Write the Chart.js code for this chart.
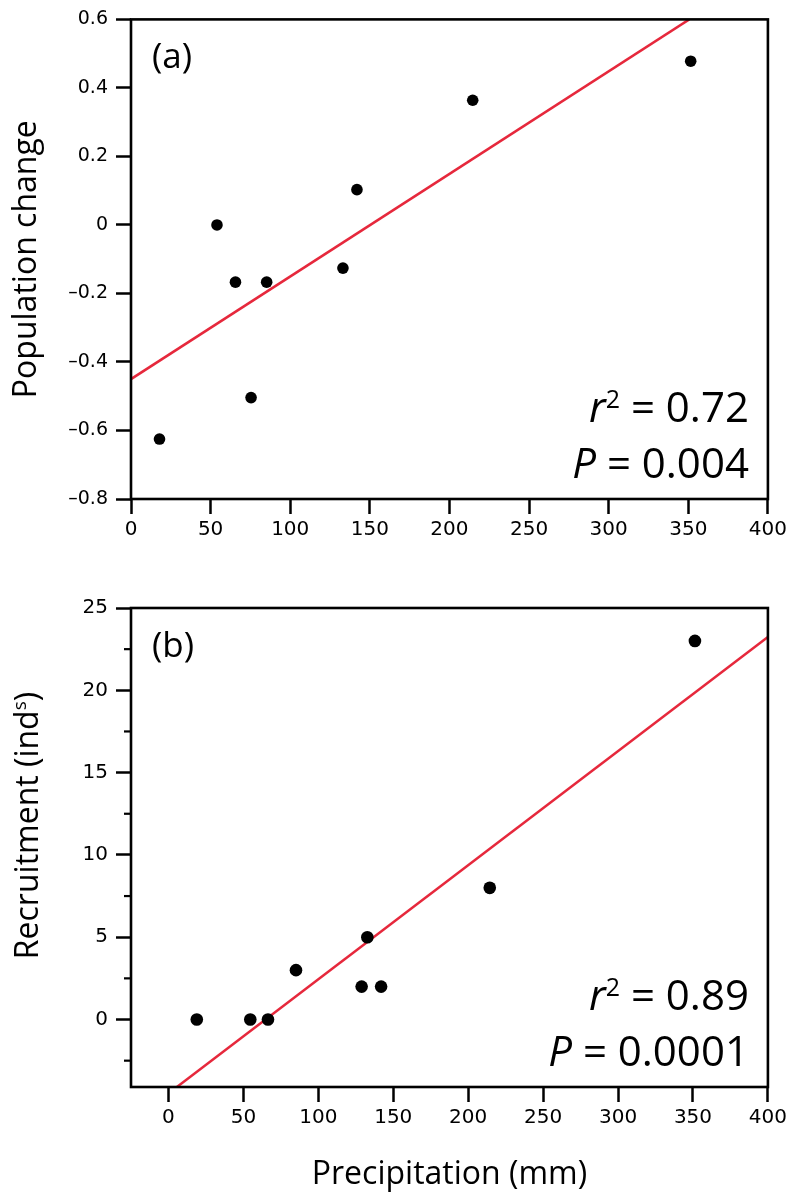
<!DOCTYPE html>
<html>
<head>
<meta charset="utf-8">
<script src="https://cdn.jsdelivr.net/npm/chart.js@4.4.1/dist/chart.umd.min.js"></script>
<style>
  html, body { margin: 0; padding: 0; background: #fff; }
  #wrap { position: relative; width: 791px; height: 1195px; }
  canvas { position: absolute; left: 0; }
  #chartA { top: 0; }
  #chartB { top: 560px; }
</style>
</head>
<body>
<div id="wrap">
  <canvas id="chartA" width="791" height="560"></canvas>
  <canvas id="chartB" width="791" height="635"></canvas>
</div>
<script>
// ---- panel (a): population change vs precipitation ----
const precipA   = [17.9, 54.0, 65.6, 75.4, 85.2, 133.1, 141.9, 214.6, 351.5];
const popChange = [-0.625, 0.0, -0.167, -0.504, -0.167, -0.126, 0.103, 0.364, 0.478];
const fitXA = [0, 350.6];
const fitYA = [-0.45, 0.6];

// ---- panel (b): recruitment vs precipitation ----
const precipB     = [18.9, 54.6, 66.4, 85.1, 128.9, 132.7, 141.9, 214.4, 351.3];
const recruitment = [0, 0, 0, 3, 2, 5, 2, 8, 23];
const fitXB = [5.6, 400];
const fitYB = [-4.1, 23.24];

// ---- ticks ----
const xTicks  = [0, 50, 100, 150, 200, 250, 300, 350, 400];
const yTicksA = [-0.8, -0.6, -0.4, -0.2, 0, 0.2, 0.4, 0.6];
const yTicksB = [0, 5, 10, 15, 20, 25];
const yMinorB = [-2.5, 2.5, 7.5, 12.5, 17.5, 22.5];

const INK  = "#000";
const RED  = "#e6283c";
const SANS = "'Open Sans', sans-serif";
const TICK = "'DejaVu Sans', sans-serif";

const pts = (xs, ys) => xs.map((x, i) => ({ x, y: ys[i] }));
const fmtA = v => v === 0 ? "0" : (v < 0 ? "\u2013" : "") + Math.abs(v).toFixed(1);

// draws text runs (italic / superscript pieces) right-aligned at a baseline
function drawRuns(ctx, runs, right, baseline) {
    let total = 0;
    runs.forEach(r => { ctx.font = r.font; total += ctx.measureText(r.t).width; });
    let x = right - total;
    runs.forEach(r => {
        ctx.font = r.font;
        ctx.fillText(r.t, x, baseline - (r.dy || 0));
        x += ctx.measureText(r.t).width;
    });
}

// frame, minor ticks, panel tag and statistics
const decor = cfg => ({
    id: "decor",
    afterDraw(chart) {
        const { ctx, chartArea: a, scales } = chart;
        ctx.save();
        ctx.strokeStyle = INK;
        ctx.lineWidth = 2.6;
        ctx.strokeRect(a.left, a.top, a.right - a.left, a.bottom - a.top);

        ctx.lineWidth = 2.2;
        (cfg.minor || []).forEach(v => {
            const y = scales.y.getPixelForValue(v);
            ctx.beginPath();
            ctx.moveTo(a.left - 7, y);
            ctx.lineTo(a.left, y);
            ctx.stroke();
        });

        ctx.fillStyle = INK;
        ctx.textAlign = "left";
        ctx.textBaseline = "alphabetic";
        ctx.font = `35px ${SANS}`;
        ctx.fillText(cfg.tag, a.left + 21, a.top + 49);

        drawRuns(ctx, [
            { t: "r", font: `italic 42px ${SANS}` },
            { t: "2", font: `25px ${SANS}`, dy: 14 },
            { t: " = " + cfg.r2, font: `42px ${SANS}` }
        ], a.right - 19, a.bottom - 77);
        drawRuns(ctx, [
            { t: "P", font: `italic 42px ${SANS}` },
            { t: " = " + cfg.p, font: `42px ${SANS}` }
        ], a.right - 19, a.bottom - 21);

        if (cfg.yTitle) {
            // rotated y title with superscript
            ctx.translate(38, a.top + 217.5);
            ctx.rotate(-Math.PI / 2);
            const runs = [
                { t: "Recruitment (ind", font: `32px ${SANS}` },
                { t: "s", font: `19px ${SANS}`, dy: 12 },
                { t: ")", font: `32px ${SANS}` }
            ];
            let total = 0;
            runs.forEach(r => { ctx.font = r.font; total += ctx.measureText(r.t).width; });
            drawRuns(ctx, runs, total / 2, 0);
        }
        ctx.restore();
    }
});

function gridOpts() {
    return {
        drawOnChartArea: false,
        drawTicks: true,
        tickLength: 15,
        tickWidth: 2.5,
        tickColor: INK,
        color: INK
    };
}

function makeChart(id, o) {
    return new Chart(document.getElementById(id), {
        type: "scatter",
        data: {
            datasets: [{
                data: o.points,
                pointRadius: o.radius,
                pointBackgroundColor: INK,
                pointBorderWidth: 0,
                showLine: false
            }, {
                data: o.fit,
                showLine: true,
                borderColor: RED,
                borderWidth: 2.5,
                pointRadius: 0
            }]
        },
        options: {
            responsive: false,
            animation: false,
            events: [],
            layout: { padding: { left: 0, right: 20, top: o.padTop, bottom: 0 } },
            plugins: { legend: { display: false }, tooltip: { enabled: false } },
            scales: {
                x: {
                    type: "linear",
                    position: "bottom",
                    min: o.xMin,
                    max: 400,
                    afterBuildTicks: ax => { ax.ticks = xTicks.map(v => ({ value: v })); },
                    afterFit: ax => { ax.height = o.xHeight; },
                    grid: gridOpts(),
                    border: { display: false },
                    ticks: {
                        color: INK,
                        font: { family: TICK, size: 20 },
                        padding: 4,
                        autoSkip: false,
                        maxRotation: 0,
                        callback: v => String(v)
                    },
                    title: o.xTitle ? {
                        display: true,
                        text: o.xTitle,
                        color: INK,
                        font: { family: SANS, size: 32 },
                        padding: { top: 0, bottom: 1 }
                    } : { display: false }
                },
                y: {
                    type: "linear",
                    position: "left",
                    min: o.yMin,
                    max: o.yMax,
                    afterBuildTicks: ax => { ax.ticks = o.yTicks.map(v => ({ value: v })); },
                    afterFit: ax => { ax.width = 131; },
                    grid: gridOpts(),
                    border: { display: false },
                    ticks: {
                        color: INK,
                        font: { family: TICK, size: o.yTickSize },
                        padding: 8,
                        autoSkip: false,
                        callback: o.yFmt
                    },
                    title: o.yTitle ? {
                        display: true,
                        text: o.yTitle,
                        color: INK,
                        font: { family: SANS, size: 32 },
                        padding: { top: 8, bottom: 0 }
                    } : { display: false }
                }
            }
        },
        plugins: [decor(o.decor)]
    });
}

makeChart("chartA", {
    points: pts(precipA, popChange),
    fit: pts(fitXA, fitYA),
    radius: 5.8,
    padTop: 19,
    xMin: 0,
    xHeight: 61,
    yMin: -0.8,
    yMax: 0.6,
    yTicks: yTicksA,
    yTickSize: 19,
    yFmt: fmtA,
    yTitle: "Population change",
    decor: { tag: "(a)", r2: "0.72", p: "0.004" }
});

makeChart("chartB", {
    points: pts(precipB, recruitment),
    fit: pts(fitXB, fitYB),
    radius: 6.3,
    padTop: 48,
    xMin: -25,
    xHeight: 108,
    xTitle: "Precipitation (mm)",
    yMin: -4.1,
    yMax: 25,
    yTicks: yTicksB,
    yTickSize: 20,
    yFmt: v => String(v),
    decor: { tag: "(b)", r2: "0.89", p: "0.0001", minor: yMinorB, yTitle: true }
});
</script>
</body>
</html>
